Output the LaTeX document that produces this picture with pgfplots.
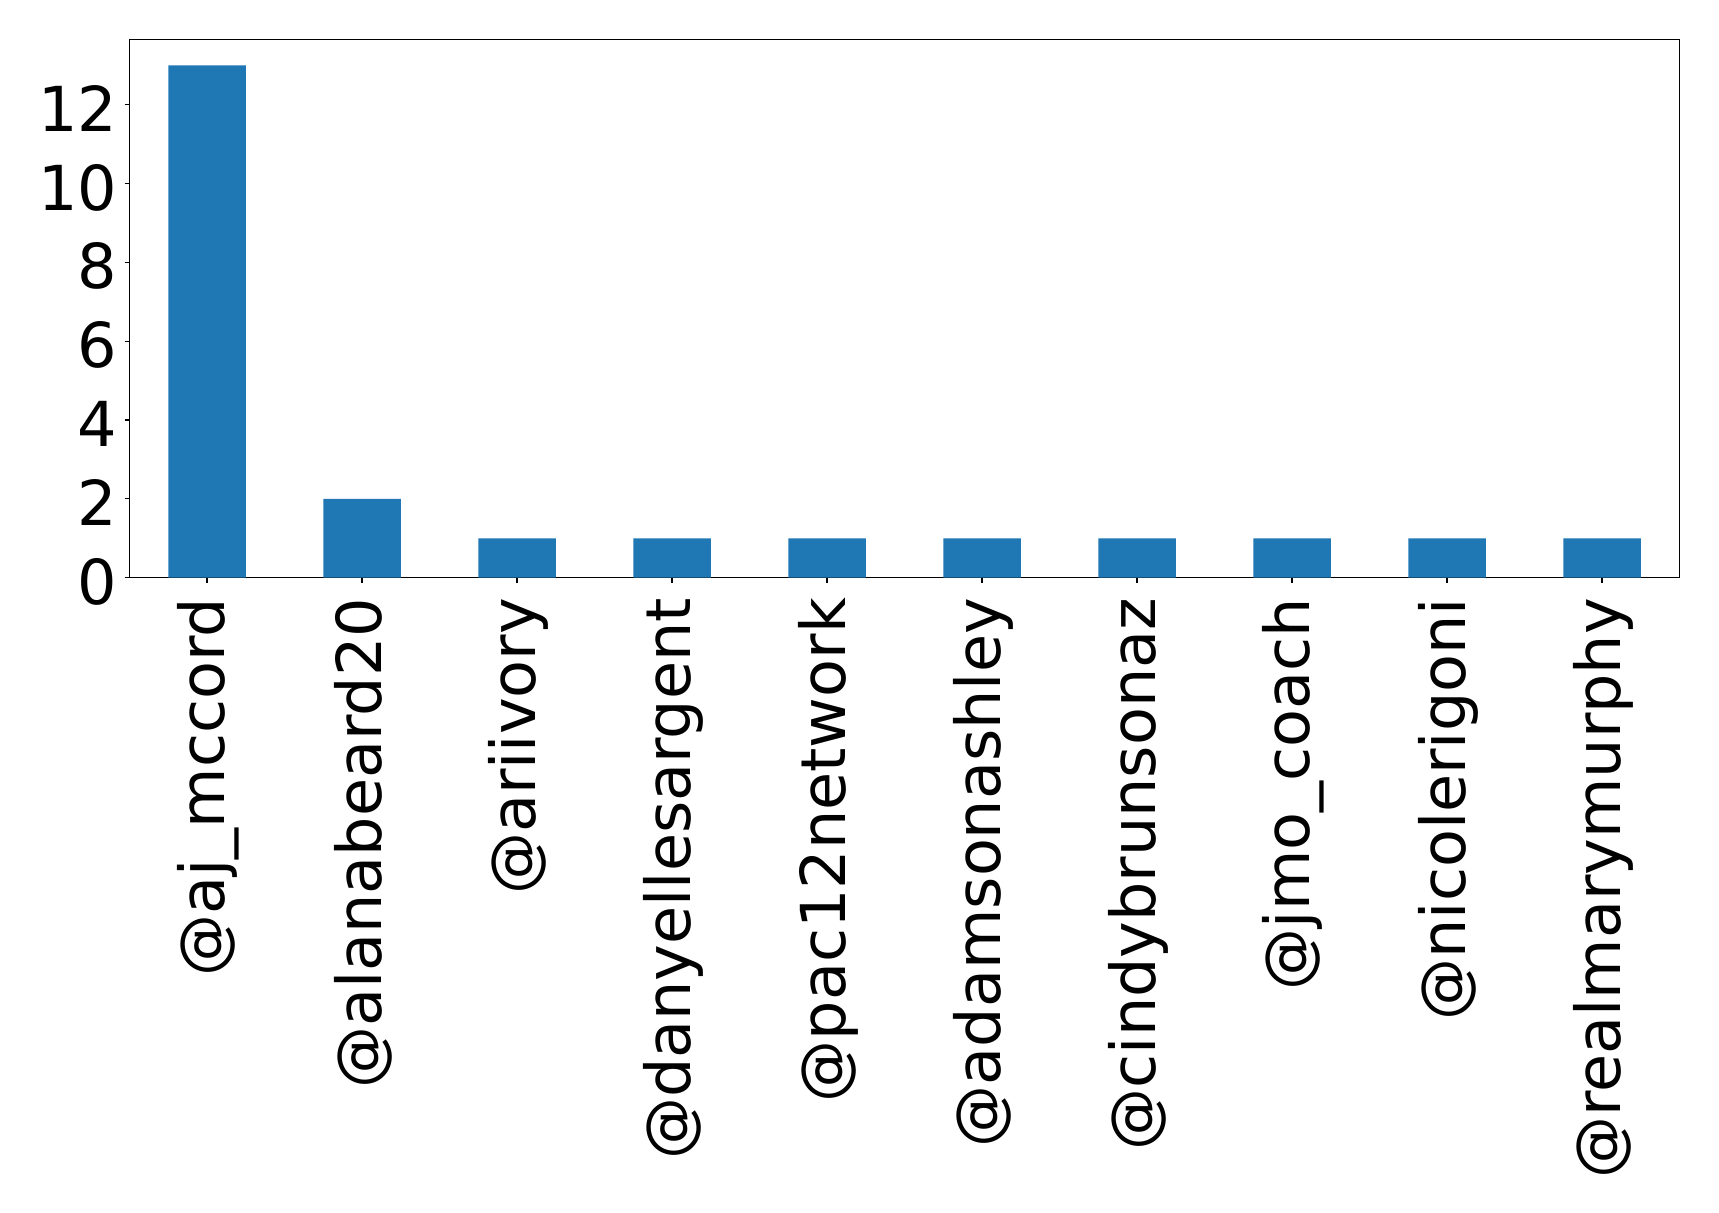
\documentclass[border=0pt]{standalone}
\usepackage{fontspec}
\setmainfont{DejaVu Sans}
\usepackage{pgfplots}
\pgfplotsset{compat=1.18}
\definecolor{mplblue}{HTML}{1F77B4}

\begin{document}
\begin{tikzpicture}
\useasboundingbox (0,0) rectangle (859.5pt,606.5pt);
\begin{axis}[
    at={(64.75pt,317.65pt)}, anchor=south west,
    scale only axis,
    width=775pt, height=269pt,
    xmin=-0.5, xmax=9.5,
    ymin=0, ymax=13.65,
    axis line style={line width=0.6pt},
    tick style={black, line width=0.6pt},
    tick align=outside,
    tick pos=left,
    major tick length=2.5pt,
    xtick={0,...,9},
    xticklabels={@aj\_mccord, @alanabeard20, @ariivory, @danyellesargent, @pac12network, @adamsonashley, @cindybrunsonaz, @jmo\_coach, @nicolerigoni, @realmarymurphy},
    % shifts act in the rotated frame: xshift moves down, yshift moves left
    xticklabel style={rotate=90, anchor=east, inner sep=0pt, xshift=-7.5pt, yshift=-0.7pt},
    ytick={0,2,...,12},
    yticklabel style={inner sep=0pt, xshift=-3.5pt, yshift=-2pt},
    ticklabel style={font=\fontsize{31}{37}\selectfont},
    /pgf/number format/assume math mode=true,
]
\addplot[ybar, bar width=0.5, fill=mplblue, draw=none] coordinates {
    (0,13) (1,2) (2,1) (3,1) (4,1) (5,1) (6,1) (7,1) (8,1) (9,1)
};
\end{axis}
\end{tikzpicture}
\end{document}
